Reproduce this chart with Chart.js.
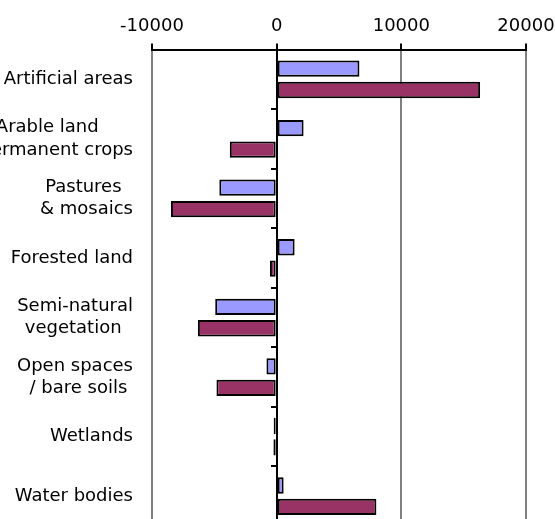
<!DOCTYPE html>
<html>
<head>
<meta charset="utf-8">
<script src="https://cdn.jsdelivr.net/npm/chart.js@4"></script>
<style>
  html, body { margin: 0; padding: 0; background: #fff; overflow: hidden; }
  canvas { display: block; }
</style>
</head>
<body>
<canvas id="chart" width="555" height="526"></canvas>
<script>
// Category labels (trailing spaces keep the short lines centred under the long ones)
const categories = [
  ["Artificial areas"],
  ["Arable land      ", "permanent crops"],
  ["Pastures  ", "& mosaics"],
  ["Forested land"],
  ["Semi-natural", "vegetation  "],
  ["Open spaces", "/ bare soils "],
  ["Wetlands"],
  ["Water bodies"]
];
const seriesA = [6640, 2160, -4600, 1440, -4930, -820, -240, 560];
const seriesB = [16320, -3760, -8480, -540, -6320, -4830, -260, 8000];
const xTicks = [-10000, 0, 10000, 20000];

const font = { family: "'DejaVu Sans', Verdana, sans-serif", size: 18, lineHeight: 1.25 };

new Chart(document.getElementById("chart"), {
  type: "bar",
  data: {
    labels: categories,
    datasets: [
      { data: seriesA, backgroundColor: "#9999FF", borderColor: "#000", borderWidth: 2, borderSkipped: false },
      { data: seriesB, backgroundColor: "#993366", borderColor: "#000", borderWidth: 2, borderSkipped: false }
    ]
  },
  options: {
    indexAxis: "y",
    responsive: false,
    animation: false,
    categoryPercentage: 0.72,
    barPercentage: 0.76,
    layout: { padding: { top: 9, right: 29, left: 0, bottom: 0 } },
    plugins: { legend: { display: false }, tooltip: { enabled: false } },
    scales: {
      x: {
        position: "top",
        min: xTicks[0],
        max: xTicks[xTicks.length - 1],
        afterBuildTicks: s => { s.ticks = xTicks.map(v => ({ value: v })); },
        afterFit: s => { s.paddingLeft = 0; s.paddingRight = 0; },
        ticks: { color: "#000", font: font, padding: 6, maxRotation: 0, callback: v => String(v) },
        grid: {
          color: c => (c.tick && c.tick.value === 0) ? "#000" : "#808080",
          lineWidth: 2,
          tickColor: "#000",
          tickLength: 6
        },
        border: { display: true, color: "#000", width: 2 }
      },
      y: {
        position: "left",
        afterFit: s => { s.width = 152; s.paddingTop = 0; s.paddingBottom = 0; },
        ticks: { color: "#000", font: font, padding: 11, crossAlign: "near" },
        grid: { display: false },
        border: { display: false }
      },
      y2: {
        type: "category",
        position: { x: 0 },
        labels: categories,
        offset: true,
        ticks: { display: false },
        grid: { offset: true, drawOnChartArea: false, tickLength: 5, tickColor: "#000", lineWidth: 2 },
        border: { display: true, color: "#000", width: 2 }
      }
    }
  }
});
</script>
</body>
</html>
